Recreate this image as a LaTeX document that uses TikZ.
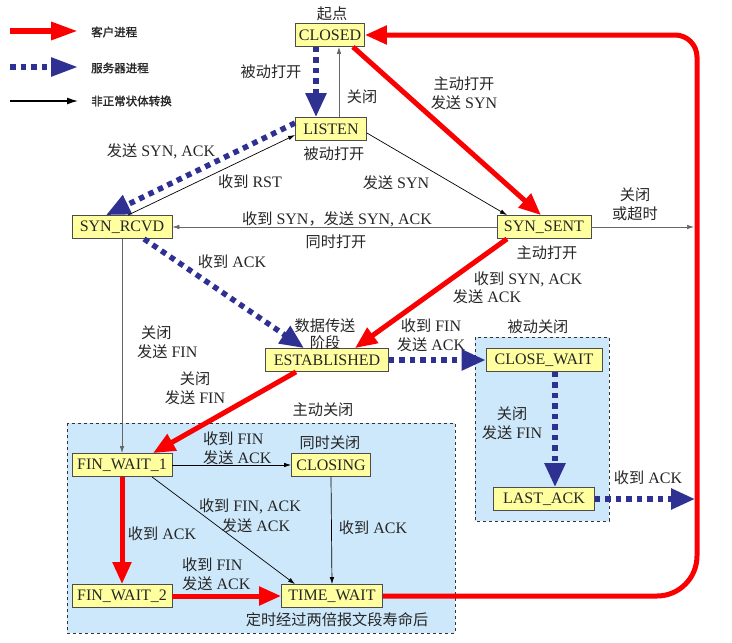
\documentclass[tikz,border=0pt]{standalone}
\usepackage{fontspec}
\setmainfont{Liberation Serif}
\newfontfamily\cjk[Scale=0.95]{Noto Sans CJK SC}
\newfontfamily\cjkb[FakeBold=1.5]{Noto Sans CJK SC}
\usetikzlibrary{arrows.meta,calc}
\newcommand\zh[1]{{\cjk #1}}
\definecolor{stateyellow}{RGB}{255,255,160}
\definecolor{regionblue}{RGB}{205,232,250}
\definecolor{cred}{RGB}{250,0,0}
\definecolor{cblue}{RGB}{46,49,146}
\begin{document}
\begin{tikzpicture}[x=1pt,y=-1pt,
  every node/.style={font=\fontsize{16}{18}\selectfont, text=black!85},
  state/.style={draw=black!70, line width=0.8pt, fill=stateyellow, minimum height=23pt, inner sep=2pt},
  lbl/.style={align=center, inner sep=0pt, font=\fontsize{16}{19}\selectfont},
  lgd/.style={anchor=west, inner sep=0pt, font=\fontsize{11.5}{13}\selectfont\cjkb},
  cli/.style={draw=cred, line width=5pt, -{Triangle[length=22pt,width=18pt]}},
  srv/.style={draw=cblue, line width=5.5pt, dash pattern=on 5.5pt off 5pt, -{Triangle[length=24pt,width=20pt]}},
  abn/.style={draw=black, line width=0.7pt, -{Latex[length=7pt,width=4.5pt]}},
  region/.style={fill=regionblue, draw=black!80, dashed, line width=0.6pt}]
\useasboundingbox (0,0) rectangle (732,643);
\fill[white] (0,0) rectangle (732,643);

% regions
\path[region] (67,423) rectangle (455,633);
\path[region] (475,337) rectangle (609,521);

% legend
\coordinate (la1) at (10,31); \coordinate (lb1) at (78,31);
\coordinate (la2) at (10,67); \coordinate (lb2) at (78,67);
\coordinate (la3) at (10,101); \coordinate (lb3) at (78,101);
\draw[cli, line width=6pt, -{Triangle[length=27pt,width=17pt]}] (la1) -- (lb1);
\draw[srv, -{Triangle[length=27pt,width=18pt]}] (la2) -- (lb2);
\draw[abn, line width=1.3pt, -{Latex[length=11pt,width=7pt]}] (la3) -- (lb3);
\node[lgd] (lg1) at (91,32) {客户进程};
\node[lgd] (lg2) at (91,68) {服务器进程};
\node[lgd] (lg3) at (91,101) {非正常状体转换};

% states
\node[state, minimum width=69pt] (closed) at (330,35) {CLOSED};
\node[state, minimum width=71pt] (listen) at (331,129) {LISTEN};
\node[state, minimum width=100pt] (synrcvd) at (122,227) {SYN\_RCVD};
\node[state, minimum width=94pt] (synsent) at (544,227) {SYN\_SENT};
\node[state, minimum width=123pt] (est) at (327,360) {ESTABLISHED};
\node[state, minimum width=116pt] (closewait) at (544,360) {CLOSE\_WAIT};
\node[state, minimum width=101pt] (lastack) at (544,499) {LAST\_ACK};
\node[state, minimum width=100pt] (fw1) at (122,465) {FIN\_WAIT\_1};
\node[state, minimum width=79pt] (closing) at (331,465) {CLOSING};
\node[state, minimum width=100pt] (fw2) at (122,596) {FIN\_WAIT\_2};
\node[state, minimum width=101pt] (tw) at (332,596) {TIME\_WAIT};

% transitions
\coordinate (p1) at ($(closed.south)+(-14,0)$);
\draw[srv] (p1) -- (p1 |- listen.north);
\coordinate (p2) at ($(listen.north)+(8,0)$);
\draw[abn, draw=black!60] (p2) -- (p2 |- closed.south);
\draw[cli] ($(closed.south)+(23,0)$) -- ($(synsent.north)+(-3,0)$);
\draw[srv] ($(listen.west)+(0,-6)$) -- ($(synrcvd.north)+(-16,0)$);
\draw[abn] ($(synrcvd.north)+(6,0)$) -- ($(listen.west)+(0,6)$);
\draw[abn] ($(listen.east)+(0,4)$) -- ($(synsent.north)+(-37,0)$);
\draw[abn, draw=black!60] (synsent.west) -- (synrcvd.east);
\coordinate (t1) at (694,227);
\draw[abn, draw=black!60] (synsent.east) -- (t1);
\draw[srv] ($(synrcvd.south)+(22,0)$) -- ($(est.north)+(-23,0)$);
\draw[cli] ($(synsent.south)+(-37,0)$) -- ($(est.north)+(28,0)$);
\draw[srv] (est.east) -- (closewait.west);
\coordinate (p13) at ($(closewait.south)+(11,0)$);
\draw[srv] (p13) -- (p13 |- lastack.north);
\coordinate (t2) at (695,499);
\draw[srv] (lastack.east) -- (t2);
\draw[abn, draw=black!60] (synrcvd.south) -- (fw1.north);
\draw[cli] ($(est.south)+(-31,0)$) -- ($(fw1.north)+(31,0)$);
\draw[abn] (fw1.east) -- (closing.west);
\draw[abn] ($(fw1.south)+(30,0)$) -- ($(tw.north)+(-37,0)$);
\draw[abn] (closing.south) -- (tw.north);
\draw[cli] (fw1.south) -- (fw2.north);
\draw[cli] (fw2.east) -- (tw.west);
\coordinate (k1) at (697,596);
\coordinate (k2) at (697,35);
\draw[cli] (tw.east) [rounded corners=40pt] -- (k1) [rounded corners=22pt] -- (k2) [sharp corners] -- (closed.east);

% labels
\node[lbl] (n1) at (332,14) {\zh{起点}};
\node[lbl] (n2) at (271,72) {\zh{被动打开}};
\node[lbl] (n3) at (362,97) {\zh{关闭}};
\node[lbl] (n4) at (464,93) {\zh{主动打开}\\\zh{发送} SYN};
\node[lbl] (n5) at (161,151) {\zh{发送} SYN, ACK};
\node[lbl] (n6) at (334,154) {\zh{被动打开}};
\node[lbl] (n7) at (250,182) {\zh{收到} RST};
\node[lbl] (n8) at (396,183) {\zh{发送} SYN};
\node[lbl] (n9) at (337,219) {\zh{收到} SYN\zh{，发送} SYN, ACK};
\node[lbl] (n10) at (336,242) {\zh{同时打开}};
\node[lbl] (n11) at (635,204) {\zh{关闭}\\\zh{或超时}};
\node[lbl] (n12) at (547,253) {\zh{主动打开}};
\node[lbl] (n13) at (528,279) {\zh{收到} SYN, ACK};
\node[lbl] (n14) at (487,297) {\zh{发送} ACK};
\node[lbl] (n15) at (232,262) {\zh{收到} ACK};
\node[lbl, font=\fontsize{16}{17}\selectfont] (n16) at (325,334) {\zh{数据传送}\\\zh{阶段}};
\node[lbl] (n17) at (431,335) {\zh{收到} FIN\\\zh{发送} ACK};
\node[lbl] (n18) at (538,327) {\zh{被动关闭}};
\node[lbl] (n19) at (512,423) {\zh{关闭}\\\zh{发送} FIN};
\node[lbl] (n20) at (648,478) {\zh{收到} ACK};
\node[lbl, align=left, anchor=west] (n21) at (137,342) {\ \zh{关闭}\\\zh{发送} FIN};
\node[lbl] (n22) at (195,388) {\zh{关闭}\\\zh{发送} FIN};
\node[lbl] (n23) at (323,410) {\zh{主动关闭}};
\node[lbl, align=left, anchor=west] (n24) at (203,448) {\zh{收到} FIN\\\zh{发送} ACK};
\node[lbl] (n25) at (330,443) {\zh{同时关闭}};
\node[lbl] (n26) at (250,506) {\zh{收到} FIN, ACK};
\node[lbl] (n27) at (256,526) {\zh{发送} ACK};
\node[lbl] (n28) at (373,528) {\zh{收到} ACK};
\node[lbl] (n29) at (162,534) {\zh{收到} ACK};
\node[lbl, align=left, anchor=west] (n30) at (182,574) {\zh{收到} FIN\\\zh{发送} ACK};
\node[lbl] (n31) at (337,620) {\zh{定时经过两倍报文段寿命后}};
\end{tikzpicture}
\end{document}
